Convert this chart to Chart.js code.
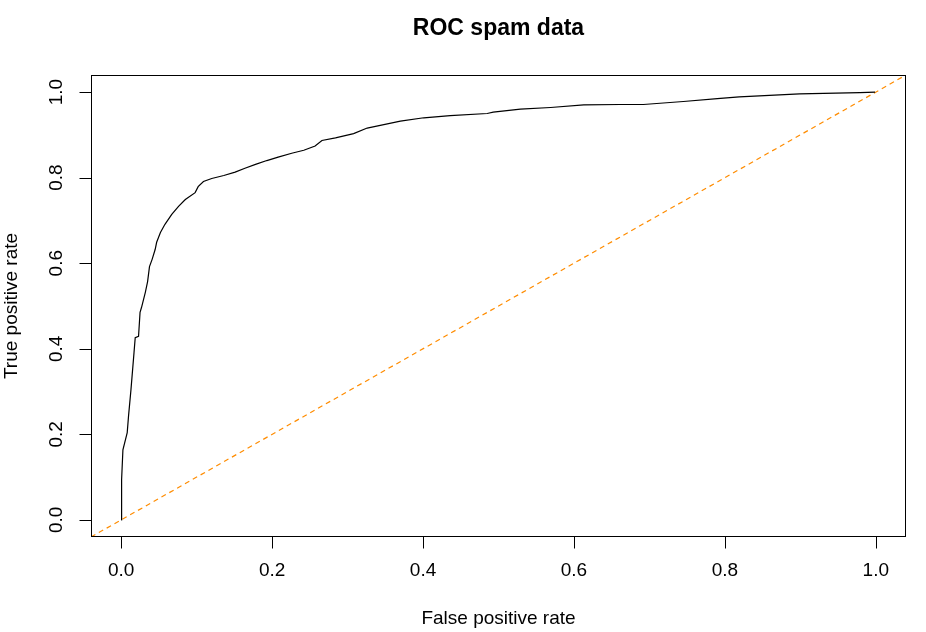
<!DOCTYPE html>
<html>
<head>
<meta charset="utf-8">
<title>ROC spam data</title>
<script src="https://cdn.jsdelivr.net/npm/chart.js@4/dist/chart.umd.min.js"></script>
<style>
  html, body { margin: 0; padding: 0; background: #ffffff; }
</style>
</head>
<body>
<canvas id="roc" width="926" height="632"></canvas>
<script>
// ROC curve points (false positive rate / true positive rate)
const fpr = [0, 0.0004, 0.0007, 0.0023, 0.008, 0.0097, 0.013, 0.017, 0.0186, 0.023, 0.025, 0.027,
  0.032, 0.035, 0.0375, 0.041, 0.045, 0.047, 0.052, 0.058, 0.067, 0.076, 0.085, 0.098, 0.102,
  0.109, 0.120, 0.136, 0.151, 0.164, 0.178, 0.193, 0.208, 0.226, 0.242, 0.257, 0.266, 0.284,
  0.308, 0.326, 0.348, 0.370, 0.401, 0.436, 0.485, 0.493, 0.529, 0.569, 0.613, 0.661, 0.692,
  0.745, 0.790, 0.819, 0.899, 0.979, 0.999, 1];
const tpr = [0, 0.008, 0.094, 0.164, 0.204, 0.242, 0.305, 0.391, 0.426, 0.429, 0.485, 0.497,
  0.532, 0.557, 0.592, 0.609, 0.632, 0.649, 0.672, 0.691, 0.714, 0.733, 0.749, 0.765, 0.779,
  0.791, 0.798, 0.805, 0.813, 0.822, 0.831, 0.840, 0.848, 0.857, 0.864, 0.874, 0.887, 0.893,
  0.903, 0.916, 0.924, 0.932, 0.940, 0.945, 0.950, 0.953, 0.960, 0.964, 0.970, 0.971, 0.971,
  0.978, 0.985, 0.989, 0.996, 0.999, 1.0, 1];

// diagonal reference line (abline 0,1), spans the whole axis range
const diagX = [-0.04, 1.04];
const diagY = [-0.04, 1.04];

const tickVals = [0, 0.2, 0.4, 0.6, 0.8, 1.0];
const tickLabels = ['0.0', '0.2', '0.4', '0.6', '0.8', '1.0'];

const titleText = 'ROC spam data';
const xTitle = 'False positive rate';
const yTitle = 'True positive rate';

const FONT = "'Liberation Sans', Arial, Helvetica, sans-serif";

function toPoints(xs, ys) {
  return xs.map((x, i) => ({ x: x, y: ys[i] }));
}

// R-style box, ticks and labels, placed with the chart's own scales
const rAxes = {
  id: 'rAxes',
  afterDraw(chart) {
    const ctx = chart.ctx;
    const a = chart.chartArea;
    const sx = chart.scales.x;
    const sy = chart.scales.y;
    const tick = 12;

    ctx.save();
    ctx.strokeStyle = '#000';
    ctx.lineWidth = 1;
    ctx.strokeRect(Math.round(a.left) + 0.5, Math.round(a.top) + 0.5,
      Math.round(a.right - a.left) - 1, Math.round(a.bottom - a.top) - 1);

    ctx.fillStyle = '#000';
    ctx.font = '19px ' + FONT;

    // x axis
    ctx.beginPath();
    const x0 = Math.round(sx.getPixelForValue(tickVals[0])) + 0.5;
    const x1 = Math.round(sx.getPixelForValue(tickVals[tickVals.length - 1])) + 0.5;
    const yb = Math.round(a.bottom) - 0.5;
    ctx.moveTo(x0, yb);
    ctx.lineTo(x1, yb);
    tickVals.forEach(v => {
      const px = Math.round(sx.getPixelForValue(v)) + 0.5;
      ctx.moveTo(px, yb);
      ctx.lineTo(px, yb + tick);
    });
    ctx.stroke();
    ctx.textAlign = 'center';
    ctx.textBaseline = 'middle';
    tickVals.forEach((v, i) => {
      ctx.fillText(tickLabels[i], sx.getPixelForValue(v), a.bottom + 34);
    });

    // y axis
    ctx.beginPath();
    const xl = Math.round(a.left) + 0.5;
    const y0 = Math.round(sy.getPixelForValue(tickVals[0])) + 0.5;
    const y1 = Math.round(sy.getPixelForValue(tickVals[tickVals.length - 1])) + 0.5;
    ctx.moveTo(xl, y0);
    ctx.lineTo(xl, y1);
    tickVals.forEach(v => {
      const py = Math.round(sy.getPixelForValue(v)) + 0.5;
      ctx.moveTo(xl, py);
      ctx.lineTo(xl - tick, py);
    });
    ctx.stroke();
    tickVals.forEach((v, i) => {
      ctx.save();
      ctx.translate(a.left - 34, sy.getPixelForValue(v));
      ctx.rotate(-Math.PI / 2);
      ctx.fillText(tickLabels[i], 0, 0);
      ctx.restore();
    });

    // axis titles
    ctx.fillText(xTitle, (a.left + a.right) / 2, a.bottom + 82);
    ctx.save();
    ctx.translate(a.left - 79, (a.top + a.bottom) / 2);
    ctx.rotate(-Math.PI / 2);
    ctx.fillText(yTitle, 0, 0);
    ctx.restore();

    // main title
    ctx.font = 'bold 23px ' + FONT;
    ctx.fillText(titleText, (a.left + a.right) / 2, 29);
    ctx.restore();
  }
};

new Chart(document.getElementById('roc').getContext('2d'), {
  type: 'scatter',
  data: {
    datasets: [
      {
        label: 'ROC',
        data: toPoints(fpr, tpr),
        showLine: true,
        borderColor: '#000000',
        borderWidth: 1.2,
        pointRadius: 0,
        tension: 0
      },
      {
        label: 'chance',
        data: toPoints(diagX, diagY),
        showLine: true,
        borderColor: '#FF8C00',
        borderWidth: 1.2,
        borderDash: [5, 4],
        pointRadius: 0
      }
    ]
  },
  options: {
    responsive: false,
    animation: false,
    devicePixelRatio: 1,
    layout: { padding: { left: 91, right: 20, top: 75, bottom: 95 } },
    scales: {
      x: { type: 'linear', min: -0.04, max: 1.04, display: false },
      y: { type: 'linear', min: -0.04, max: 1.04, display: false }
    },
    plugins: {
      legend: { display: false },
      tooltip: { enabled: false },
      title: { display: false }
    }
  },
  plugins: [rAxes]
});
</script>
</body>
</html>
